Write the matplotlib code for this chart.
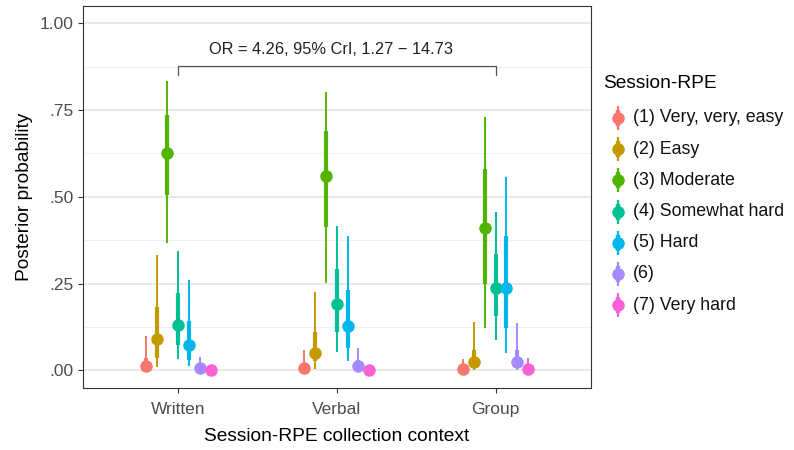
import matplotlib
matplotlib.use("Agg")
import matplotlib.pyplot as plt
import numpy as np

plt.rcParams['font.family'] = ['Liberation Sans', 'DejaVu Sans']

contexts = ["Written", "Verbal", "Group"]
categories = ["(1) Very, very, easy", "(2) Easy", "(3) Moderate", "(4) Somewhat hard",
              "(5) Hard", "(6)", "(7) Very hard"]
colors = ["#F8766D", "#C49A00", "#53B400", "#00C094", "#00B6EB", "#A58AFF", "#FB61D7"]

# median, 66% interval (lo, hi), 95% interval (lo, hi); rows=category, cols=context
median = [
    [0.012, 0.006, 0.003],
    [0.089, 0.051, 0.024],
    [0.625, 0.560, 0.410],
    [0.132, 0.190, 0.238],
    [0.074, 0.127, 0.237],
    [0.008, 0.012, 0.024],
    [0.001, 0.001, 0.003],
]
lo66 = [
    [0.004, 0.002, 0.001],
    [0.036, 0.027, 0.008],
    [0.504, 0.412, 0.249],
    [0.072, 0.110, 0.156],
    [0.030, 0.063, 0.123],
    [0.002, 0.004, 0.008],
    [0.000, 0.000, 0.001],
]
hi66 = [
    [0.035, 0.022, 0.012],
    [0.183, 0.111, 0.060],
    [0.736, 0.690, 0.580],
    [0.223, 0.292, 0.336],
    [0.142, 0.231, 0.388],
    [0.020, 0.030, 0.060],
    [0.004, 0.004, 0.012],
]
lo95 = [
    [0.001, 0.000, 0.000],
    [0.011, 0.005, 0.002],
    [0.366, 0.252, 0.123],
    [0.032, 0.053, 0.087],
    [0.012, 0.027, 0.051],
    [0.000, 0.001, 0.002],
    [0.000, 0.000, 0.000],
]
hi95 = [
    [0.100, 0.060, 0.034],
    [0.331, 0.226, 0.140],
    [0.834, 0.803, 0.729],
    [0.343, 0.417, 0.455],
    [0.261, 0.386, 0.557],
    [0.038, 0.065, 0.137],
    [0.010, 0.012, 0.036],
]
yticks = [0.0, 0.25, 0.50, 0.75, 1.00]
ytick_labels = [".00", ".25", ".50", ".75", "1.00"]
annotation = "OR = 4.26, 95% CrI, 1.27 \u2212 14.73"

fig = plt.figure(figsize=(7.94, 4.5), dpi=100)
ax = fig.add_axes([83/794, 1-387.7/450, (590.7-83)/794, (387.7-6)/450])

x = np.arange(1, len(contexts)+1)
dodge = 0.068
for i, cat in enumerate(categories):
    xi = x + (i - 3) * dodge
    for j in range(len(contexts)):
        ax.plot([xi[j], xi[j]], [lo95[i][j], hi95[i][j]], color=colors[i], lw=1.4,
                solid_capstyle='butt', zorder=3)
        ax.plot([xi[j], xi[j]], [lo66[i][j], hi66[i][j]], color=colors[i], lw=3.0,
                solid_capstyle='butt', zorder=3)
    ax.plot(xi, median[i], 'o', color=colors[i], ms=9, mec='none', zorder=4)

ax.set_xlim(0.4, 3.6)
ax.set_ylim(-0.05, 1.05)
ax.set_xticks(x)
ax.set_xticklabels(contexts, fontsize=12.5, color='#4D4D4D')
ax.set_yticks(yticks)
ax.set_yticklabels(ytick_labels, fontsize=12.5, color='#4D4D4D')
ax.set_yticks([0.125, 0.375, 0.625, 0.875], minor=True)
ax.set_xticks([], minor=True)
ax.grid(True, which='major', axis='y', color='#E5E5E5', lw=1.2, zorder=0)
ax.grid(True, which='minor', axis='y', color='#F0F0F0', lw=0.7, zorder=0)
ax.tick_params(axis='y', which='major', length=3.5, color='#333333', width=0.8, pad=3)
ax.tick_params(axis='x', which='major', length=3.5, color='#333333', width=0.8, pad=7)
ax.tick_params(axis='y', which='minor', length=0)
for s in ax.spines.values():
    s.set_color('#333333')
    s.set_linewidth(0.8)
ax.set_axisbelow(True)

ax.set_ylabel("Posterior probability", fontsize=13.8, labelpad=5)
ax.set_xlabel("Session-RPE collection context", fontsize=13.8, labelpad=8)

# bracket annotation
ax.plot([x[0], x[0], x[2], x[2]], [0.852, 0.876, 0.876, 0.852], color='#555555', lw=0.9, zorder=2)
ax.text((x[0]+x[2])/2 - 0.04, 0.924, annotation, ha='center', va='center', fontsize=11.8, color='#222222')

# legend drawn manually
lax = fig.add_axes([0, 0, 1, 1], facecolor='none')
lax.set_xlim(0, 794)
lax.set_ylim(450, 0)
lax.axis('off')
lax.text(603, 84, "Session-RPE", fontsize=13.8, va='center', ha='left')
for i, cat in enumerate(categories):
    yy = 118 + i * 31.2
    lax.plot([618, 618], [yy - 12, yy + 12], color=colors[i], lw=1.6, solid_capstyle='butt')
    lax.plot([618, 618], [yy - 8, yy + 8], color=colors[i], lw=3.2, solid_capstyle='butt')
    lax.plot([618], [yy], 'o', color=colors[i], ms=9, mec='none')
    lax.text(633, yy, cat, fontsize=12.8, va='center', ha='left', color='#111111')

fig.savefig("out.png", dpi=100)
